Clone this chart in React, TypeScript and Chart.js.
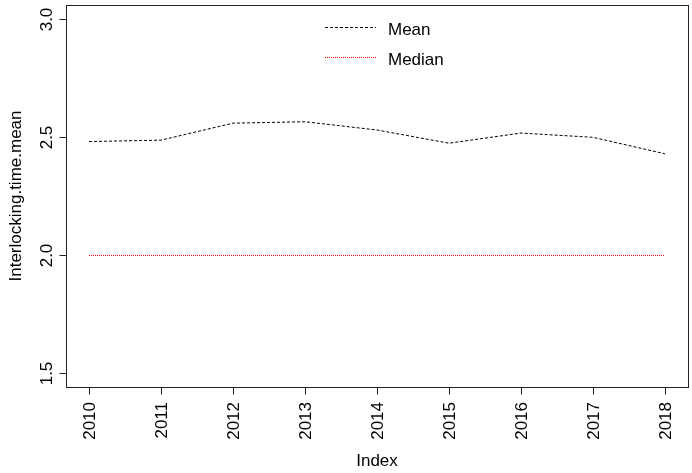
import React, { useEffect, useRef } from "react";
import { Chart, registerables } from "chart.js";

Chart.register(...registerables);

const years = [2010, 2011, 2012, 2013, 2014, 2015, 2016, 2017, 2018];
const meanValues = [2.483, 2.489, 2.561, 2.567, 2.532, 2.476, 2.519, 2.501, 2.431];
const medianValues = [2.0, 2.0, 2.0, 2.0, 2.0, 2.0, 2.0, 2.0, 2.0];
const yTickValues = [1.5, 2.0, 2.5, 3.0];
const seriesNames = ["Mean", "Median"];
const xAxisTitle = "Index";
const yAxisTitle = "Interlocking.time.mean";

const FONT = '17px "Liberation Sans", Arial, sans-serif';

const rAxesPlugin = {
  id: "rAxes",
  afterDraw(chart: any) {
    const { ctx, chartArea, scales } = chart;
    const xs = scales.x;
    const ys = scales.y;
    ctx.save();
    ctx.strokeStyle = "#222";
    ctx.lineWidth = 1;
    const L = 66, R = 688, T = 5, B = 387;
    ctx.strokeRect(L + 0.5, T + 0.5, R - L, B - T);
    ctx.fillStyle = "#000";
    ctx.font = FONT;
    // x ticks
    const by = B + 0.5;
    years.forEach((yr) => {
      const px = Math.round(xs.getPixelForValue(yr)) + 0.5;
      ctx.beginPath();
      ctx.moveTo(px, by);
      ctx.lineTo(px, by + 7);
      ctx.stroke();
      ctx.save();
      ctx.translate(px + 0.5, by + 14.5);
      ctx.rotate(-Math.PI / 2);
      ctx.textAlign = "right";
      ctx.textBaseline = "middle";
      ctx.fillText(String(yr), 0, 0);
      ctx.restore();
    });
    // y ticks
    const lx = L + 0.5;
    yTickValues.forEach((v) => {
      const py = Math.floor(ys.getPixelForValue(v)) + 0.5;
      ctx.beginPath();
      ctx.moveTo(lx, py);
      ctx.lineTo(lx - 7, py);
      ctx.stroke();
      ctx.save();
      ctx.translate(47.5, py);
      ctx.rotate(-Math.PI / 2);
      ctx.textAlign = "center";
      ctx.textBaseline = "middle";
      ctx.fillText(v.toFixed(1), 0, 0);
      ctx.restore();
    });
    // axis titles
    ctx.textAlign = "center";
    ctx.textBaseline = "alphabetic";
    ctx.fillText(xAxisTitle, (L + R) / 2, 466);
    ctx.save();
    ctx.translate(20.5, (T + B) / 2);
    ctx.rotate(-Math.PI / 2);
    ctx.fillText(yAxisTitle, 0, 0);
    ctx.restore();
    // legend
    chart.data.datasets.forEach((ds: any, i: number) => {
      const ly = 27.5 + i * 30;
      ctx.save();
      ctx.strokeStyle = ds.borderColor;
      ctx.lineWidth = ds.borderWidth;
      ctx.setLineDash(ds.borderDash || []);
      ctx.beginPath();
      ctx.moveTo(325, ly);
      ctx.lineTo(376, ly);
      ctx.stroke();
      ctx.restore();
      ctx.textAlign = "left";
      ctx.textBaseline = "alphabetic";
      ctx.fillStyle = "#000";
      ctx.fillText(ds.label, 388, 35 + i * 29.5);
    });
    ctx.restore();
  },
};

export default function App() {
  const ref = useRef<HTMLCanvasElement | null>(null);
  useEffect(() => {
    if (!ref.current) return;
    const chart = new Chart(ref.current, {
      type: "line",
      data: {
        datasets: [
          {
            label: seriesNames[0],
            data: years.map((y, i) => ({ x: y, y: meanValues[i] })),
            borderColor: "#000",
            borderWidth: 1,
            borderDash: [3, 2],
            pointRadius: 0,
            tension: 0,
            fill: false,
          },
          {
            label: seriesNames[1],
            data: years.map((y, i) => ({ x: y, y: medianValues[i] })),
            borderColor: "#e00000",
            borderWidth: 1,
            borderDash: [1, 1],
            pointRadius: 0,
            tension: 0,
            fill: false,
          },
        ],
      },
      options: {
        responsive: false,
        animation: false,
        events: [],
        layout: { padding: { left: 66, right: 4, top: 5.5, bottom: 85.5 } },
        scales: {
          x: { type: "linear", min: 2009.68, max: 2018.32, display: false },
          y: { type: "linear", min: 1.44, max: 3.06, display: false },
        },
        plugins: {
          legend: { display: false },
          tooltip: { enabled: false },
        },
      },
      plugins: [rAxesPlugin],
    });
    return () => chart.destroy();
  }, []);
  return (
    <div style={{ position: "fixed", left: 0, top: 0, width: 692, height: 473, background: "#fff" }}>
      <canvas ref={ref} width={692} height={473} style={{ width: 692, height: 473, display: "block" }} />
    </div>
  );
}
